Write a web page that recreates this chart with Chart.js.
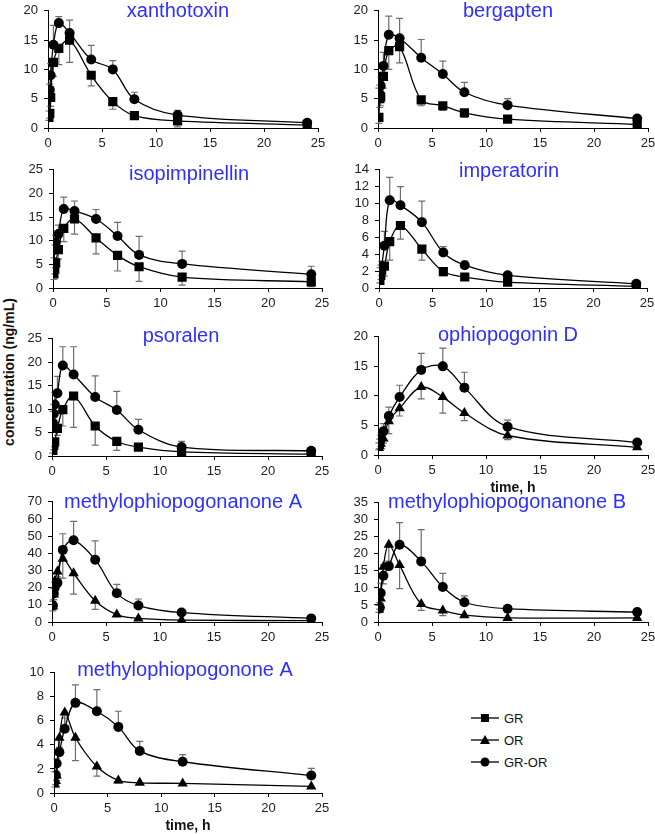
<!DOCTYPE html>
<html>
<head>
<meta charset="utf-8">
<script src="https://cdn.jsdelivr.net/npm/chart.js@4"></script>
<style>
  html, body { margin: 0; padding: 0; background: #fff; }
  #wrap { position: relative; width: 655px; height: 834px; overflow: hidden; font-family: "Liberation Sans", Arial, sans-serif; }
  #wrap canvas { position: absolute; }
  #ytitle {
    position: absolute; left: 9px; top: 372px; white-space: nowrap;
    font-weight: bold; font-size: 14px; color: #111;
    transform: translate(-50%, -50%) rotate(-90deg);
  }
  .leg { position: absolute; left: 470px; height: 16px; font-size: 13px; color: #111; display: flex; align-items: center; }
  .leg svg { margin-right: 4px; }
</style>
</head>
<body>
<div id="wrap">
  <div id="ytitle">concentration (ng/mL)</div>
  <div class="leg" style="top:710px"><svg width="30" height="12"><line x1="1" y1="6" x2="29" y2="6" stroke="#222" stroke-width="1.5"/><rect x="11" y="2" width="8" height="8" fill="#000"/></svg>GR</div>
  <div class="leg" style="top:732px"><svg width="30" height="12"><line x1="1" y1="6" x2="29" y2="6" stroke="#222" stroke-width="1.5"/><polygon points="15,1 20,10 10,10" fill="#000"/></svg>OR</div>
  <div class="leg" style="top:754px"><svg width="30" height="12"><line x1="1" y1="6" x2="29" y2="6" stroke="#222" stroke-width="1.5"/><circle cx="15" cy="6" r="4.5" fill="#000"/></svg>GR-OR</div>
</div>
<script>
document.addEventListener('DOMContentLoaded', function() {
    // Sampling times (h)
    var timesH = [0.083, 0.167, 0.25, 0.5, 1, 2, 4, 6, 8, 12, 24];

    // xanthotoxin
    var xanthotoxinGR      = [1.8, 2.5, 5.2, 11.2, 13.6, 15.0, 9.0, 4.5, 2.1, 1.2, 0.5];
    var xanthotoxinGRerr   = [0.5, 0.8, 1.5, 2.4, 2.8, 3.8, 1.8, 1.3, 0.5, 1.0, 0.3];
    var xanthotoxinGROR    = [2.4, 6.5, 9.0, 14.2, 17.9, 16.2, 11.7, 10.0, 4.9, 2.2, 0.9];
    var xanthotoxinGRORerr = [0.5, 1.0, 2.0, 3.3, 1.1, 2.2, 2.4, 1.5, 1.2, 0.8, 0.3];

    // bergapten
    var bergaptenGR      = [1.8, 5.0, 5.3, 8.8, 13.2, 13.9, 4.8, 3.8, 2.6, 1.5, 0.6];
    var bergaptenGRerr   = [1.0, 1.5, 1.5, 2.0, 3.2, 2.8, 1.0, 0.8, 0.8, 0.3, 0.2];
    var bergaptenGROR    = [5.3, 5.8, 7.2, 10.6, 15.9, 15.3, 12.0, 9.2, 6.1, 3.9, 1.6];
    var bergaptenGRORerr = [1.5, 1.5, 1.5, 2.3, 3.2, 3.4, 3.1, 2.2, 1.7, 1.1, 0.5];

    // isopimpinellin
    var isopimpinellinGR      = [3.0, 4.0, 5.3, 8.1, 12.6, 14.6, 10.6, 6.9, 4.5, 2.3, 1.3];
    var isopimpinellinGRerr   = [1.2, 1.0, 1.0, 2.0, 2.8, 3.2, 3.4, 3.3, 3.1, 1.7, 1.0];
    var isopimpinellinGROR    = [5.4, 8.1, 9.6, 11.4, 16.7, 16.3, 14.6, 11.0, 7.0, 5.1, 2.9];
    var isopimpinellinGRORerr = [1.0, 1.0, 1.5, 1.9, 2.5, 2.1, 2.0, 2.9, 3.9, 2.7, 1.7];

    // imperatorin
    var imperatorinGR      = [0.9, 1.5, 2.1, 2.6, 5.5, 7.4, 4.6, 1.95, 1.3, 0.7, 0.2];
    var imperatorinGRerr   = [0.3, 0.5, 0.6, 1.2, 2.2, 1.6, 1.3, 0.5, 0.2, 0.2, 0.1];
    var imperatorinGROR    = [1.9, 2.2, 2.6, 5.0, 10.4, 9.8, 7.8, 4.2, 2.7, 1.5, 0.5];
    var imperatorinGRORerr = [0.5, 0.5, 0.6, 1.7, 2.7, 2.2, 2.5, 0.7, 0.5, 0.2, 0.1];

    // psoralen
    var psoralenGR      = [1.2, 2.3, 3.0, 5.9, 9.9, 12.8, 6.4, 3.1, 1.9, 0.9, 0.4];
    var psoralenGRerr   = [0.6, 1.0, 1.0, 1.5, 3.5, 6.7, 4.1, 1.9, 0.7, 0.3, 0.2];
    var psoralenGROR    = [7.1, 9.0, 11.0, 13.4, 19.3, 17.4, 12.6, 9.8, 5.6, 1.9, 1.1];
    var psoralenGRORerr = [2.4, 2.0, 2.5, 3.6, 4.0, 5.9, 4.5, 4.0, 2.2, 1.2, 0.3];

    // ophiopogonin D
    var ophiopogoninDOR      = [1.2, 1.5, 1.9, 2.8, 5.7, 7.9, 11.5, 9.8, 7.1, 3.3, 1.3];
    var ophiopogoninDORerr   = [0.3, 0.4, 0.5, 0.8, 2.1, 1.3, 2.0, 2.7, 1.3, 0.7, 0.2];
    var ophiopogoninDGROR    = [1.65, 2.2, 2.7, 4.0, 6.6, 9.8, 14.4, 15.0, 11.4, 4.8, 2.1];
    var ophiopogoninDGRORerr = [0.4, 0.5, 0.6, 1.3, 1.5, 2.0, 2.8, 3.1, 2.6, 1.1, 0.3];

    // methylophiopogonanone A
    var mopaOR      = [9.0, 16.0, 23.7, 29.4, 36.9, 28.4, 12.4, 4.3, 2.1, 1.1, 0.8];
    var mopaORerr   = [2.5, 3.0, 4.0, 4.5, 11.4, 12.2, 5.1, 1.0, 0.5, 0.3, 0.2];
    var mopaGROR    = [9.6, 16.6, 20.0, 22.8, 42.0, 47.6, 36.3, 16.8, 9.6, 5.5, 2.1];
    var mopaGRORerr = [2.5, 3.0, 3.0, 3.5, 9.4, 11.0, 11.0, 5.1, 3.8, 1.0, 0.5];

    // methylophiopogonanone B
    var mopbOR      = [3.6, 5.0, 6.9, 16.2, 22.7, 16.7, 5.3, 3.4, 2.0, 1.2, 1.2];
    var mopbORerr   = [0.8, 1.2, 1.5, 5.0, 6.0, 6.9, 1.9, 1.5, 0.4, 0.3, 0.2];
    var mopbGROR    = [3.9, 4.2, 8.5, 13.6, 16.4, 22.7, 17.8, 10.3, 5.8, 3.9, 2.9];
    var mopbGRORerr = [1.0, 1.5, 2.9, 3.2, 1.5, 6.5, 9.3, 4.0, 1.9, 0.9, 0.4];

    // methylophiopogonone A
    var mopnOR      = [0.7, 1.0, 1.45, 4.6, 6.7, 4.6, 2.2, 1.05, 0.85, 0.8, 0.55];
    var mopnORerr   = [0.2, 0.3, 0.4, 1.0, 1.4, 1.9, 0.8, 0.2, 0.1, 0.1, 0.1];
    var mopnGROR    = [1.45, 1.5, 2.45, 3.4, 5.35, 7.5, 6.8, 5.5, 3.5, 2.6, 1.45];
    var mopnGRORerr = [0.3, 0.3, 0.4, 0.4, 0.9, 1.5, 1.8, 1.3, 0.8, 0.6, 0.6];

    // Panels: data references plus where each plot area sits on the page
    var panels = [
        { title: 'xanthotoxin', low: ['GR', xanthotoxinGR, xanthotoxinGRerr], high: [xanthotoxinGROR, xanthotoxinGRORerr],
          yMax: 20, yStep: 5, L: 48, R: 318, T: 7, B: 128, xh: 22, tx: 178, ty: 17 },
        { title: 'bergapten', low: ['GR', bergaptenGR, bergaptenGRerr], high: [bergaptenGROR, bergaptenGRORerr],
          yMax: 20, yStep: 5, L: 378, R: 648, T: 7, B: 128, xh: 22, tx: 508, ty: 17 },
        { title: 'isopimpinellin', low: ['GR', isopimpinellinGR, isopimpinellinGRerr], high: [isopimpinellinGROR, isopimpinellinGRORerr],
          yMax: 25, yStep: 5, L: 53, R: 322, T: 166, B: 288, xh: 22, tx: 189, ty: 180 },
        { title: 'imperatorin', low: ['GR', imperatorinGR, imperatorinGRerr], high: [imperatorinGROR, imperatorinGRORerr],
          yMax: 14, yStep: 2, L: 379, R: 647, T: 166, B: 288, xh: 22, tx: 509, ty: 177 },
        { title: 'psoralen', low: ['GR', psoralenGR, psoralenGRerr], high: [psoralenGROR, psoralenGRORerr],
          yMax: 25, yStep: 5, L: 52, R: 322, T: 335, B: 456, xh: 22, tx: 181, ty: 342 },
        { title: 'ophiopogonin D', low: ['OR', ophiopogoninDOR, ophiopogoninDORerr], high: [ophiopogoninDGROR, ophiopogoninDGRORerr],
          yMax: 20, yStep: 5, L: 378, R: 648, T: 333, B: 455, xh: 46, tx: 508, ty: 341, xTitle: true },
        { title: 'methylophiopogonanone A', low: ['OR', mopaOR, mopaORerr], high: [mopaGROR, mopaGRORerr],
          yMax: 70, yStep: 10, L: 52, R: 322, T: 498, B: 622, xh: 22, tx: 183, ty: 508 },
        { title: 'methylophiopogonanone B', low: ['OR', mopbOR, mopbORerr], high: [mopbGROR, mopbGRORerr],
          yMax: 35, yStep: 5, L: 378, R: 648, T: 499, B: 622, xh: 22, tx: 507, ty: 508 },
        { title: 'methylophiopogonone A', low: ['OR', mopnOR, mopnORerr], high: [mopnGROR, mopnGRORerr],
          yMax: 10, yStep: 2, L: 54, R: 322, T: 669, B: 793, xh: 46, tx: 185, ty: 676, xTitle: true }
    ];

    var YW = 40, PT = 10, PR = 14;
    var FONT = '"Liberation Sans", Arial, sans-serif';

    // Draws one-sided error bars (up for GR-OR, down for the other series)
    var errorBars = {
        id: 'errorBars',
        beforeDatasetsDraw: function(chart) {
            var ctx = chart.ctx, x = chart.scales.x, y = chart.scales.y;
            ctx.save();
            ctx.strokeStyle = '#6e6e6e';
            ctx.lineWidth = 1.2;
            chart.data.datasets.forEach(function(ds) {
                ds.errors.forEach(function(e, i) {
                    var p = ds.data[i];
                    var px = x.getPixelForValue(p.x);
                    var py = y.getPixelForValue(p.y);
                    var ey = y.getPixelForValue(Math.max(0, p.y + ds.errSign * e));
                    ctx.beginPath();
                    ctx.moveTo(px, py);
                    ctx.lineTo(px, ey);
                    ctx.moveTo(px - 3.5, ey);
                    ctx.lineTo(px + 3.5, ey);
                    ctx.stroke();
                });
            });
            ctx.restore();
        }
    };

    // Compound name drawn inside the plot
    var panelTitle = {
        id: 'panelTitle',
        afterDraw: function(chart, args, opts) {
            var ctx = chart.ctx;
            ctx.save();
            ctx.font = '20px ' + FONT;
            ctx.fillStyle = '#2f2fff';
            ctx.textAlign = 'center';
            ctx.textBaseline = 'alphabetic';
            ctx.fillText(opts.text, opts.x, opts.y);
            ctx.restore();
        }
    };

    function toPoints(vals) {
        return timesH.map(function(t, i) { return { x: t, y: vals[i] }; });
    }

    var wrap = document.getElementById('wrap');

    panels.forEach(function(p) {
        var left = p.L - YW, top = p.T - PT;
        var w = p.R + PR - left, h = p.B + p.xh - top;
        var canvas = document.createElement('canvas');
        canvas.width = w;
        canvas.height = h;
        canvas.style.left = left + 'px';
        canvas.style.top = top + 'px';
        wrap.appendChild(canvas);

        var lowStyle = p.low[0] === 'GR' ? 'rect' : 'triangle';
        var lowRadius = p.low[0] === 'GR' ? 6.5 : 6;

        new Chart(canvas.getContext('2d'), {
            type: 'line',
            data: {
                datasets: [
                    {
                        label: p.low[0],
                        data: toPoints(p.low[1]),
                        errors: p.low[2],
                        errSign: -1,
                        borderColor: '#000',
                        backgroundColor: '#000',
                        borderWidth: 1.3,
                        pointStyle: lowStyle,
                        pointRadius: lowRadius,
                        pointBorderWidth: 0,
                        tension: 0.35,
                        fill: false
                    },
                    {
                        label: 'GR-OR',
                        data: toPoints(p.high[0]),
                        errors: p.high[1],
                        errSign: 1,
                        borderColor: '#000',
                        backgroundColor: '#000',
                        borderWidth: 1.3,
                        pointStyle: 'circle',
                        pointRadius: 5,
                        pointBorderWidth: 0,
                        tension: 0.35,
                        fill: false
                    }
                ]
            },
            options: {
                responsive: false,
                animation: false,
                layout: { padding: { top: PT, right: PR, left: 0, bottom: 0 } },
                scales: {
                    x: {
                        type: 'linear',
                        min: 0,
                        max: 25,
                        ticks: { stepSize: 5, autoSkip: false, maxRotation: 0, color: '#222', padding: 4, font: { family: FONT, size: 13 } },
                        grid: { drawOnChartArea: false, drawTicks: true, tickLength: 4, color: '#000' },
                        border: { display: true, color: '#000', width: 1 },
                        title: {
                            display: !!p.xTitle,
                            text: 'time, h',
                            color: '#111',
                            font: { family: FONT, size: 14, weight: 'bold' },
                            padding: { top: 4, bottom: 4 }
                        },
                        afterFit: function(s) { s.height = p.xh; }
                    },
                    y: {
                        min: 0,
                        max: p.yMax,
                        ticks: { stepSize: p.yStep, autoSkip: false, color: '#222', padding: 6, font: { family: FONT, size: 13 } },
                        grid: { drawOnChartArea: false, drawTicks: true, tickLength: 4, color: '#000' },
                        border: { display: true, color: '#000', width: 1 },
                        afterFit: function(s) { s.width = YW; }
                    }
                },
                plugins: {
                    legend: { display: false },
                    tooltip: { enabled: false },
                    panelTitle: { text: p.title, x: p.tx - left, y: p.ty - top }
                }
            },
            plugins: [errorBars, panelTitle]
        });
    });
});
</script>
</body>
</html>
